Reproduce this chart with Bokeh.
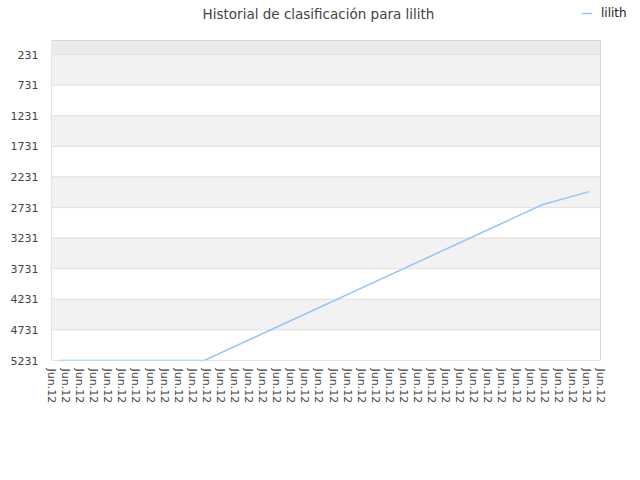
from bokeh.plotting import figure
from bokeh.models import Range1d, FixedTicker, BoxAnnotation, Legend, LegendItem, Label
from bokeh.embed import file_html
from bokeh.resources import INLINE

title_text = "Historial de clasificación para lilith"
series_name = "lilith"
tick_label = "Jun.12"
n_ticks = 40
y_ticks = [231, 731, 1231, 1731, 2231, 2731, 3231, 3731, 4231, 4731, 5231]
y_top = 0
# data points (x position in tick units, rank value)
x_pos = [0.5, 10.85, 34.9, 38.2]
rank = [5231, 5231, 2680, 2470]

FONT = "DejaVu Sans"

# layout (canvas pixels)
W, H = 636, 464
ML, MB = 51, 104          # frame left / bottom border
BOX_RIGHT, BOX_TOP = 600, 40   # visible plot box right / top edge
frame_h = H - MB
# ranges extended so that the frame also holds the title / legend area
x_end = (n_ticks - 1) * (W - ML) / (BOX_RIGHT - ML)
y_span = y_ticks[-1] - y_top
y_end = y_top - BOX_TOP * y_span / (frame_h - BOX_TOP)

p = figure(width=W, height=H, output_backend="svg", toolbar_location=None,
           x_range=Range1d(0, x_end), y_range=Range1d(y_ticks[-1], y_end),
           min_border_left=ML, min_border_right=0, min_border_top=0, min_border_bottom=MB)

p.background_fill_color = "white"
p.border_fill_color = "white"
p.outline_line_color = None
p.grid.visible = False

# plot box bands
x0, x1 = 0, n_ticks - 1
p.add_layout(BoxAnnotation(left=x0, right=x1, bottom=y_top, top=y_ticks[0],
                           fill_color="#ebebeb", fill_alpha=1.0, line_color=None, level="underlay"))
for i in range(len(y_ticks) - 1):
    p.add_layout(BoxAnnotation(left=x0, right=x1, bottom=y_ticks[i], top=y_ticks[i + 1],
                               fill_color="#f2f2f2" if i % 2 == 0 else "white", fill_alpha=1.0,
                               line_color="#e3e3e3", line_alpha=1.0, line_width=1, level="underlay"))
p.add_layout(BoxAnnotation(left=x0, right=x1, bottom=y_top, top=y_ticks[-1],
                           fill_alpha=0, line_color="#d8d8d8", line_alpha=1.0, line_width=1,
                           level="underlay"))

p.yaxis.ticker = FixedTicker(ticks=y_ticks)
p.yaxis.axis_line_color = None
p.yaxis.major_tick_line_color = None
p.yaxis.major_tick_out = 0
p.yaxis.minor_tick_line_color = None
p.yaxis.major_label_text_font = FONT
p.yaxis.major_label_text_font_size = "11px"
p.yaxis.major_label_text_color = "#444444"
p.yaxis.major_label_standoff = 13

p.xaxis.ticker = FixedTicker(ticks=list(range(n_ticks)))
p.xaxis.major_label_overrides = {i: tick_label for i in range(n_ticks)}
p.xaxis.major_label_orientation = "vertical"
p.xaxis.axis_line_color = None
p.xaxis.major_tick_line_color = None
p.xaxis.major_tick_out = 0
p.xaxis.minor_tick_line_color = None
p.xaxis.major_label_text_font = FONT
p.xaxis.major_label_text_font_size = "11px"
p.xaxis.major_label_text_color = "#444444"
p.xaxis.major_label_standoff = 8

r = p.line(x_pos, rank, line_color="#95c6f7", line_width=1.5)

legend = Legend(items=[LegendItem(label=series_name, renderers=[r])],
                location=(530, frame_h - 20), border_line_color=None, background_fill_alpha=0,
                padding=0, margin=0, glyph_width=11, glyph_height=12, label_standoff=9,
                label_text_font=FONT, label_text_font_size="12px", label_text_color="#222222")
p.add_layout(legend)

p.add_layout(Label(x=318 - ML, y=frame_h - 13, x_units="screen", y_units="screen",
                   text=title_text, text_align="center", text_baseline="middle",
                   text_font=FONT, text_font_size="13.5px", text_color="#444444"))

open("out.html", "w").write(file_html(p, INLINE))
